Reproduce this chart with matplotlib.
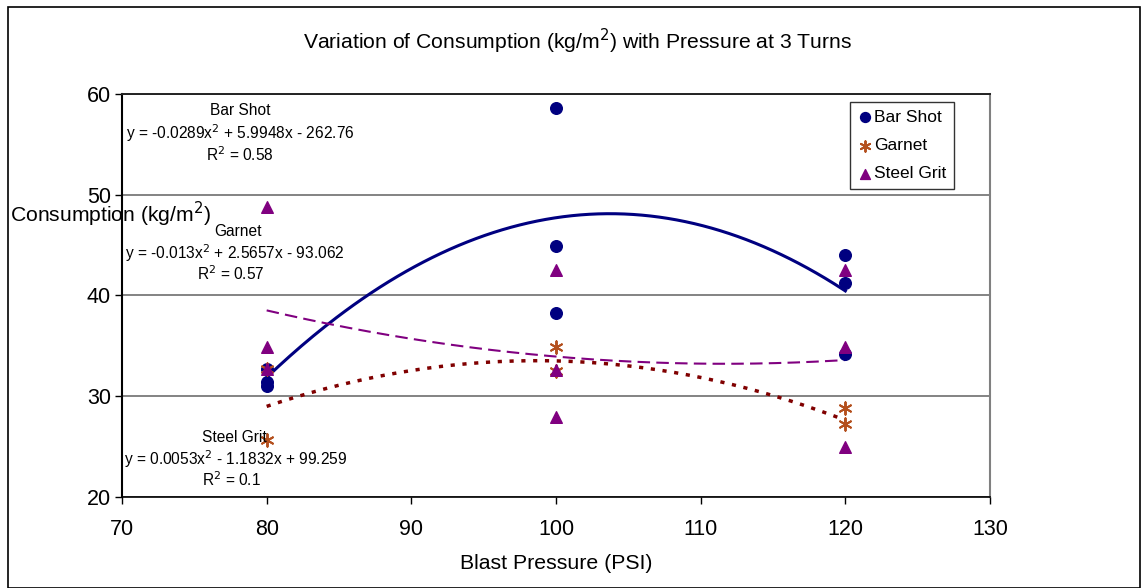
import numpy as np
import matplotlib
matplotlib.use("Agg")
import matplotlib.pyplot as plt
from matplotlib.patches import Rectangle

plt.rcParams['font.family'] = ['Liberation Sans', 'DejaVu Sans']

# measured consumption (kg/m2) per blast pressure (PSI)
bar_x = [80, 80, 80, 100, 100, 100, 120, 120, 120]
bar_y = [32.7, 31.4, 31.0, 58.6, 44.9, 38.3, 44.0, 41.2, 34.2]
garnet_x = [80, 80, 100, 100, 120, 120]
garnet_y = [32.7, 25.7, 34.9, 32.5, 28.8, 27.2]
grit_x = [80, 80, 80, 100, 100, 100, 120, 120, 120]
grit_y = [48.8, 34.9, 32.7, 42.5, 32.6, 27.9, 42.5, 34.9, 25.0]

# polynomial trend line coefficients as shown on the chart
bar_fit = [-0.0289, 5.9948, -262.76]
garnet_fit = [-0.013, 2.5657, -93.062]
grit_fit = [0.0053, -1.1832, 99.259]

W, H = 1141, 588
fig = plt.figure(figsize=(W / 100, H / 100), dpi=100)
ax = fig.add_axes([122 / W, 1 - 497 / H, (990 - 122) / W, (497 - 94) / H])

xs = np.linspace(80, 120, 200)
ax.plot(xs, np.polyval(bar_fit, xs), color='#000080', lw=2.2, zorder=3)
ax.plot(xs, np.polyval(garnet_fit, xs), color='#800000', lw=2.5,
        linestyle=(0, (1.2, 2.2)), zorder=3)
ax.plot(xs, np.polyval(grit_fit, xs), color='#800080', lw=1.5,
        linestyle=(0, (6, 3)), zorder=3)

ax.scatter(bar_x, bar_y, s=70, color='#000080', marker='o', zorder=4, label='Bar Shot')
ax.scatter(garnet_x, garnet_y, s=80, color='#B4501E', marker=(6, 2, 0), lw=1.4,
           zorder=4, label='Garnet')
ax.scatter(grit_x, grit_y, s=70, color='#800080', marker='^', zorder=4, label='Steel Grit')

ax.set_xlim(70, 130)
ax.set_ylim(20, 60)
ax.set_xticks(range(70, 131, 10))
ax.set_yticks(range(20, 61, 10))
ax.tick_params(labelsize=15.5, direction='out', length=5, width=1, pad=3)
ax.tick_params(axis='x', pad=11)
ax.yaxis.grid(True, color='#6e6e6e', lw=1.2)
ax.set_axisbelow(True)
ax.spines['top'].set_color('#222222')
ax.spines['top'].set_linewidth(1.4)
ax.spines['right'].set_color('#808080')
ax.spines['right'].set_linewidth(1.5)
ax.spines['left'].set_linewidth(1.5)
ax.spines['bottom'].set_linewidth(1.2)

ax.set_xlabel('Blast Pressure (PSI)', fontsize=15.3, labelpad=10)

leg = ax.legend(loc='upper right', bbox_to_anchor=(954 / W, 1 - 102 / H),
                bbox_transform=fig.transFigure, fontsize=12.5, frameon=True,
                fancybox=False, edgecolor='black', handletextpad=0.05,
                handlelength=0.9, borderpad=0.45, labelspacing=0.75,
                markerscale=0.85, borderaxespad=0)
leg.get_frame().set_linewidth(1.0)

fig.text(578 / W, 1 - 41 / H, 'Variation of Consumption (kg/m$^2$) with Pressure at 3 Turns',
         ha='center', va='center', fontsize=15.2)
fig.text(10 / W, 1 - 214 / H, 'Consumption (kg/m$^2$)', ha='left', va='center', fontsize=15.2)

notes = [
    (240, 111, 'Bar Shot'), (240, 133, 'y = -0.0289x$^2$ + 5.9948x - 262.76'), (240, 155, 'R$^2$ = 0.58'),
    (238, 232, 'Garnet'), (235, 253, 'y = -0.013x$^2$ + 2.5657x - 93.062'), (231, 274, 'R$^2$ = 0.57'),
    (234, 437, 'Steel Grit'), (236, 459, 'y = 0.0053x$^2$ - 1.1832x + 99.259'), (232, 480, 'R$^2$ = 0.1'),
]
for px, py, s in notes:
    fig.text(px / W, 1 - py / H, s, ha='center', va='center', fontsize=11.2)

fig.patches.append(Rectangle((8 / W, 0), (1140 - 8) / W, 1 - 7 / H, transform=fig.transFigure,
                             fill=False, edgecolor='black', lw=1.2))

fig.savefig('out.png', dpi=100)
